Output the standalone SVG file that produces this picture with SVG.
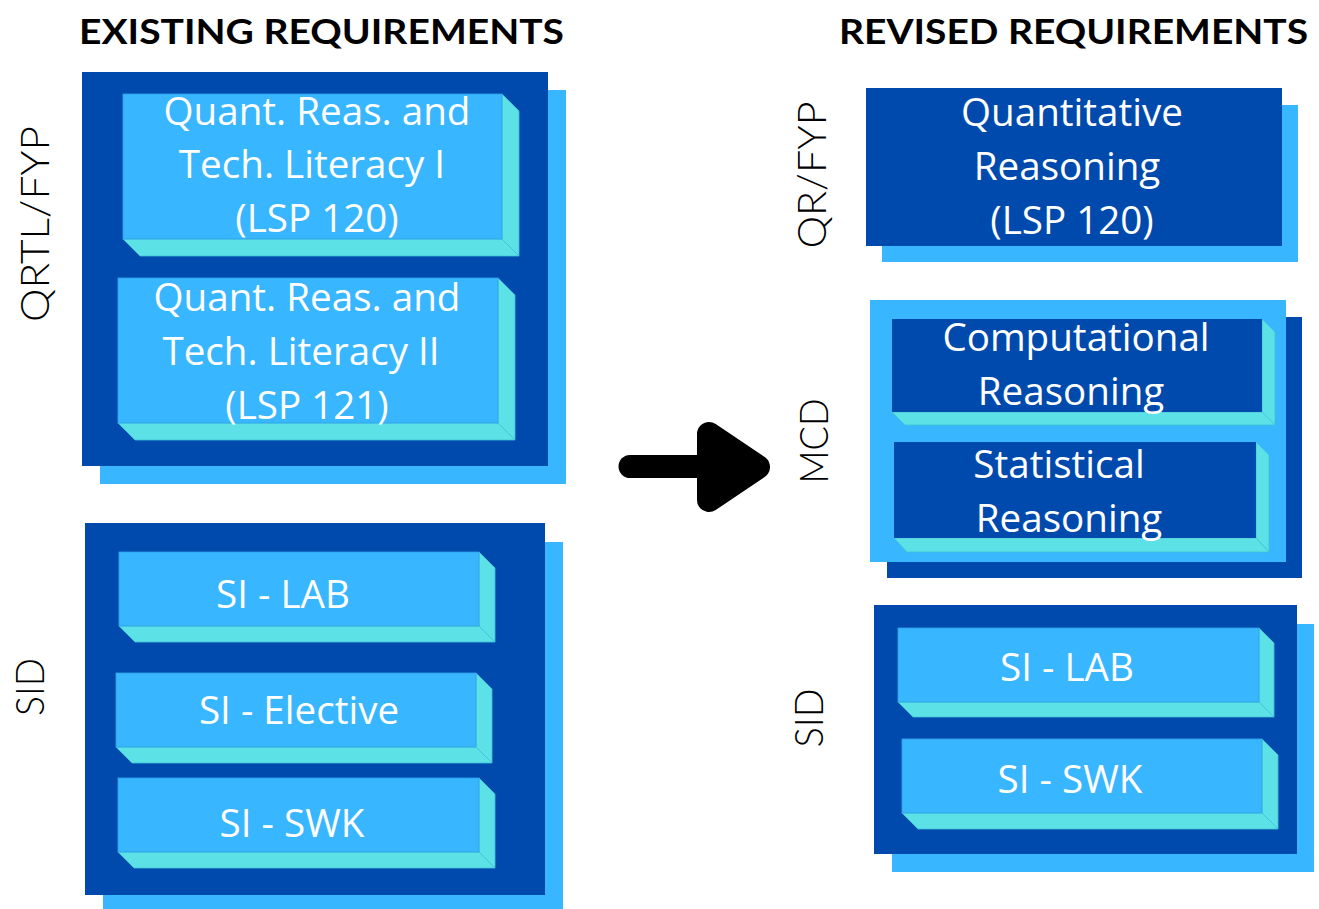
<svg xmlns="http://www.w3.org/2000/svg" width="1319" height="909" viewBox="0 0 1319 909">
<defs>
<style>
.dark{fill:#004AAD}
.light{fill:#38B6FF}
.face{fill:#38B6FF;stroke:#2FA3E8;stroke-width:0.8}
.dface{fill:#004AAD}
.bev{fill:#5CE1E6;stroke:#3FC3D6;stroke-width:0.8}
.t{font-family:"Open Sans","Noto Sans",sans-serif;font-size:38.6px;fill:#FFFFFF;text-anchor:middle}
.title{font-family:Lato,"Open Sans",sans-serif;font-weight:700;font-size:35px;fill:#000000}
.vl{font-family:Lato,"Open Sans",sans-serif;font-weight:300;font-size:40px;fill:#000000;text-anchor:middle}
</style>
</defs>
<rect width="1319" height="909" fill="#FFFFFF"/>

<g id="titles">
<text class="title" x="79" y="44" textLength="485" lengthAdjust="spacingAndGlyphs">EXISTING REQUIREMENTS</text>
<text class="title" x="839" y="44" textLength="469" lengthAdjust="spacingAndGlyphs">REVISED REQUIREMENTS</text>
</g>

<g id="labels">
<text class="vl" transform="translate(49,224) rotate(-90)" textLength="196" lengthAdjust="spacingAndGlyphs">QRTL/FYP</text>
<text class="vl" transform="translate(44,687) rotate(-90)" textLength="58" lengthAdjust="spacingAndGlyphs">SID</text>
<text class="vl" transform="translate(826,175) rotate(-90)" textLength="147" lengthAdjust="spacingAndGlyphs">QR/FYP</text>
<text class="vl" transform="translate(828,441) rotate(-90)" textLength="85" lengthAdjust="spacingAndGlyphs">MCD</text>
<text class="vl" transform="translate(823,718) rotate(-90)" textLength="59" lengthAdjust="spacingAndGlyphs">SID</text>
</g>

<!-- Existing QRTL/FYP container -->
<g id="existing-qrtl">
<rect class="light" x="100" y="90" width="466" height="394"/>
<rect class="dark" x="82" y="72" width="466" height="394"/>
</g>
<g id="qrtl-1">
<polygon class="bev" points="502,94 519,111 519,256 502,239"/>
<polygon class="bev" points="123,239 502,239 519,256 140,256"/>
<rect class="face" x="123" y="94" width="379" height="145"/>
<text class="t" x="317" y="125">Quant. Reas. and</text>
<text class="t" x="312" y="178">Tech. Literacy I</text>
<text class="t" x="317" y="232">(LSP 120)</text>
</g>
<g id="qrtl-2">
<polygon class="bev" points="498,278 515,295 515,440 498,423"/>
<polygon class="bev" points="118,423 498,423 515,440 135,440"/>
<rect class="face" x="118" y="278" width="380" height="145"/>
<text class="t" x="307" y="311">Quant. Reas. and</text>
<text class="t" x="301" y="365">Tech. Literacy II</text>
<text class="t" x="307" y="419">(LSP 121)</text>
</g>

<!-- Existing SID container -->
<g id="existing-sid">
<rect class="light" x="103" y="542" width="460" height="367"/>
<rect class="dark" x="85" y="523" width="460" height="372"/>
</g>
<g id="si-lab-old">
<polygon class="bev" points="479,552 495,568 495,642 479,626"/>
<polygon class="bev" points="119,626 479,626 495,642 135,642"/>
<rect class="face" x="119" y="552" width="360" height="74"/>
<text class="t" x="283" y="608">SI - LAB</text>
</g>
<g id="si-elective">
<polygon class="bev" points="476,673 492,689 492,763 476,747"/>
<polygon class="bev" points="116,747 476,747 492,763 132,763"/>
<rect class="face" x="116" y="673" width="360" height="74"/>
<text class="t" x="299" y="724">SI - Elective</text>
</g>
<g id="si-swk-old">
<polygon class="bev" points="479,778 495,794 495,868 479,852"/>
<polygon class="bev" points="118,852 479,852 495,868 134,868"/>
<rect class="face" x="118" y="778" width="361" height="74"/>
<text class="t" x="292" y="837">SI - SWK</text>
</g>

<!-- Revised QR/FYP -->
<g id="qr-fyp">
<rect class="light" x="882" y="105" width="416" height="157"/>
<rect class="dark" x="866" y="88" width="416" height="158"/>
<text class="t" x="1072" y="126">Quantitative</text>
<text class="t" x="1067" y="180">Reasoning</text>
<text class="t" x="1072" y="234">(LSP 120)</text>
</g>

<!-- Revised MCD -->
<g id="mcd">
<rect class="dark" x="887" y="317" width="415" height="261"/>
<rect class="light" x="870" y="300" width="416" height="262"/>
</g>
<g id="computational">
<polygon class="bev" points="1262,319 1275,332 1275,425 1262,412"/>
<polygon class="bev" points="892,412 1262,412 1275,425 905,425"/>
<rect class="dface" x="892" y="319" width="370" height="93"/>
<text class="t" x="1076" y="351">Computational</text>
<text class="t" x="1071" y="405">Reasoning</text>
</g>
<g id="statistical">
<polygon class="bev" points="1256,442 1269,455 1269,552 1256,538"/>
<polygon class="bev" points="894,538 1256,538 1269,552 907,552"/>
<rect class="dface" x="894" y="442" width="362" height="96"/>
<text class="t" x="1059" y="478">Statistical</text>
<text class="t" x="1069" y="532">Reasoning</text>
</g>

<!-- Revised SID -->
<g id="revised-sid">
<rect class="light" x="892" y="624" width="422" height="248"/>
<rect class="dark" x="874" y="605" width="423" height="249"/>
</g>
<g id="si-lab-new">
<polygon class="bev" points="1259,628 1274,643 1274,717 1259,702"/>
<polygon class="bev" points="898,702 1259,702 1274,717 913,717"/>
<rect class="face" x="898" y="628" width="361" height="74"/>
<text class="t" x="1067" y="681">SI - LAB</text>
</g>
<g id="si-swk-new">
<polygon class="bev" points="1262,739 1278,755 1278,829 1262,813"/>
<polygon class="bev" points="902,813 1262,813 1278,829 918,829"/>
<rect class="face" x="902" y="739" width="360" height="74"/>
<text class="t" x="1070" y="793">SI - SWK</text>
</g>

<g id="connectors">
<line x1="630" y1="466.5" x2="705" y2="466.5" stroke="#000000" stroke-width="23" stroke-linecap="round"/>
<polygon points="709,434 758,467 709,500" fill="#000000" stroke="#000000" stroke-width="24" stroke-linejoin="round"/>
</g>
</svg>
